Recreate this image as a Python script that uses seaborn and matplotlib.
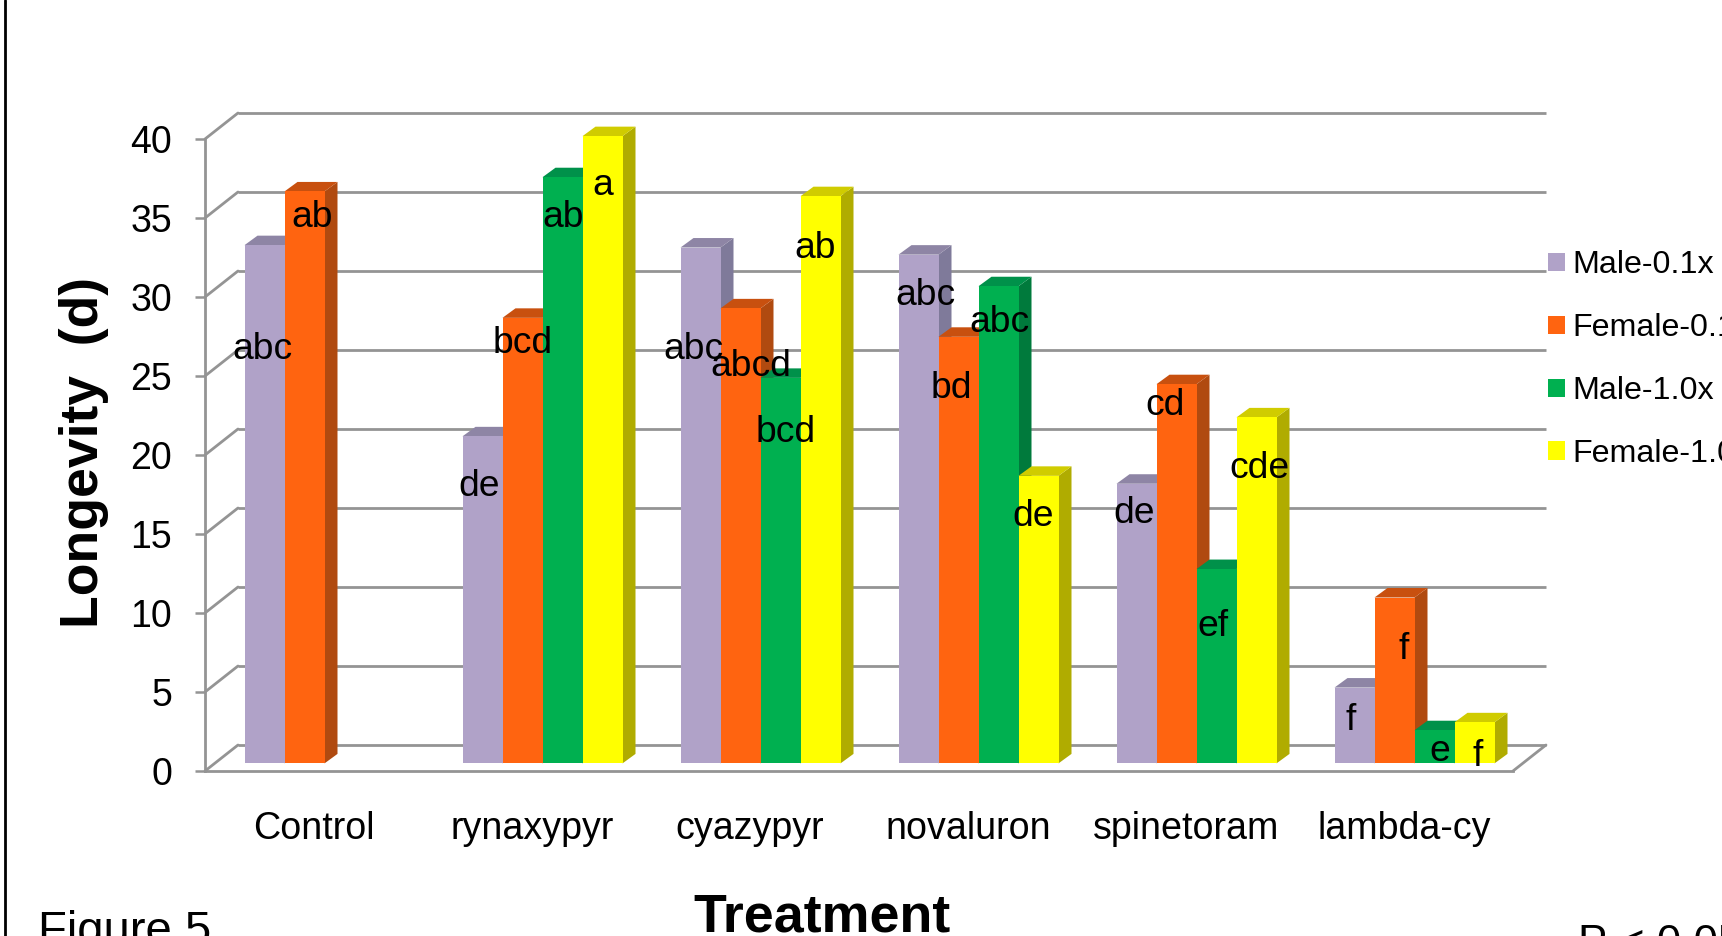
import numpy as np
import pandas as pd
import matplotlib
matplotlib.use("Agg")
import matplotlib.pyplot as plt
from matplotlib.colors import to_hex
from matplotlib.lines import Line2D
from matplotlib.patches import Patch, Polygon
from matplotlib.transforms import Affine2D, IdentityTransform
import seaborn as sns

treatments = ["Control", "rynaxypyr", "cyazypyr", "novaluron", "spinetoram", "lambda-cy"]
series_names = ["Male-0.1x", "Female-0.1x", "Male-1.0x", "Female-1.0x"]
male_01 = [32.8, 20.7, 32.65, 32.2, 17.7, 4.8]
female_01 = [36.2, 28.2, 28.8, 27.0, 24.0, 10.5]
male_10 = [np.nan, 37.1, 24.4, 30.2, 12.3, 2.1]
female_10 = [np.nan, 39.7, 35.9, 18.2, 21.9, 2.6]

letters_male_01 = ["abc", "de", "abc", "abc", "de", "f"]
letters_female_01 = ["ab", "bcd", "abcd", "bd", "cd", "f"]
letters_male_10 = ["", "ab", "bcd", "abc", "ef", "e"]
letters_female_10 = ["", "a", "ab", "de", "cde", "f"]

# label offsets from the top centre of each bar, in pixels
offs_male_01 = [(-2.4, -113.8), (-3, -59.2), (-7, -111.5), (6.5, -49.9), (-2.5, -39.3), (-4, -42)]
offs_female_01 = [(7.5, -35.6), (0, -35.6), (10.4, -67.6), (-7, -61.2), (-11, -30.8), (9, -61.5)]
offs_male_10 = [(0, 0), (1, -49.8), (5, -64.1), (1, -45.8), (-4, -66.6), (5, -30.4)]
offs_female_10 = [(0, 0), (0.7, -58.9), (-5.3, -61.4), (-5.5, -50.2), (3, -60.2), (3, -43.7)]

front_colors = ["#b0a2c8", "#ff6410", "#00b050", "#ffff00"]
side_colors = ["#7f7a9a", "#b04a10", "#007a3c", "#b0ac00"]
top_colors = ["#8e85a5", "#c8500f", "#00914a", "#d0cc00"]
GRID = "#949494"
GRID_LW = 2.0

sns.set_theme(style="white")
plt.rcParams["font.family"] = ["Liberation Sans", "DejaVu Sans"]

W, H = 1722, 936
fig = plt.figure(figsize=(W / 100, H / 100), dpi=100, facecolor="white")


def box(x0, x1, ytop, ybot):
    return [x0 / W, 1 - ybot / H, (x1 - x0) / W, (ybot - ytop) / H]


# front plane of the frame
ax_front = fig.add_axes(box(205, 1513, 139, 771))
# plane on which the fronts of the bars stand
ax = fig.add_axes(box(215.5, 1523.5, 131.4, 763.4))
ax.set_zorder(5)
ax.patch.set_visible(False)

rows = []
for name, vals in zip(series_names, [male_01, female_01, male_10, female_10]):
    for t, v in zip(treatments, vals):
        rows.append({"Treatment": t, "Series": name, "Longevity": v})
df = pd.DataFrame(rows)

sns.barplot(data=df, x="Treatment", y="Longevity", hue="Series",
            order=treatments, hue_order=series_names, palette=front_colors,
            width=160 / 218, gap=0, dodge=True, errorbar=None, legend=False,
            linewidth=0, saturation=1, ax=ax)
ax.set_xlim(-0.5, 5.5)
ax.set_ylim(0, 40)
ax.axis("off")

ax_front.set_xlim(-0.5, 5.5)
ax_front.set_ylim(0, 40)
ax_front.set_yticks(range(0, 45, 5))
ax_front.set_xticks(range(len(treatments)))
ax_front.set_xticklabels(treatments)
ax_front.tick_params(axis="y", length=7.2, width=1.8, color=GRID, pad=16.5, labelsize=27,
                     left=True, labelcolor="black")
ax_front.tick_params(axis="x", length=0, pad=28.7, labelsize=27.1, labelcolor="black")
ax_front.set_xlabel("")
ax_front.set_ylabel("")
ax_front.grid(False)
sns.despine(ax=ax_front, top=True, right=True)
for s in ("left", "bottom"):
    ax_front.spines[s].set_color(GRID)
    ax_front.spines[s].set_linewidth(GRID_LW)

# back wall
WALL_DX, WALL_DY = 33, 26
wall = ax_front.transData + Affine2D().translate(WALL_DX, WALL_DY)
for v in ax_front.get_yticks():
    ax_front.plot([-0.5, 5.5], [v, v], color=GRID, lw=GRID_LW, transform=wall,
                  clip_on=False, zorder=1, solid_capstyle="butt")
    x0, y0 = ax_front.transData.transform((-0.5, v))
    ax_front.add_line(Line2D([x0, x0 + WALL_DX], [y0, y0 + WALL_DY], color=GRID, lw=GRID_LW,
                             transform=IdentityTransform(), clip_on=False, zorder=1))
x0, y0 = ax_front.transData.transform((5.5, 0))
ax_front.add_line(Line2D([x0, x0 + WALL_DX], [y0, y0 + WALL_DY], color=GRID, lw=GRID_LW,
                         transform=IdentityTransform(), clip_on=False, zorder=1))

# bar depth
dx = 13 / 218
dy = 9.5 / 15.8
hue_of = {c: i for i, c in enumerate(front_colors)}
bars = [p for p in ax.patches if np.isfinite(p.get_height()) and p.get_height() > 0]
bars.sort(key=lambda p: p.get_x())
for i, p in enumerate(bars):
    xl, w, h = p.get_x(), p.get_width(), p.get_height()
    k = hue_of[to_hex(p.get_facecolor())]
    z = 3 + 2 * i
    p.set_zorder(z)
    p.set_clip_on(False)
    ax.add_patch(Polygon([(xl + w, 0), (xl + w + dx, dy), (xl + w + dx, h + dy), (xl + w, h)],
                         closed=True, fc=side_colors[k], ec="none", zorder=z - 1, clip_on=False))
    ax.add_patch(Polygon([(xl, h), (xl + dx, h + dy), (xl + w + dx, h + dy), (xl + w, h)],
                         closed=True, fc=top_colors[k], ec="none", zorder=z - 1, clip_on=False))

# significance letters
bar_width = 160 / 218 / 4
for k, (vals, lets, offs) in enumerate(zip(
        [male_01, female_01, male_10, female_10],
        [letters_male_01, letters_female_01, letters_male_10, letters_female_10],
        [offs_male_01, offs_female_01, offs_male_10, offs_female_10])):
    for g, (v, s, o) in enumerate(zip(vals, lets, offs)):
        if not s:
            continue
        cx = g + (k - 1.5) * bar_width
        ax.annotate(s, xy=(cx, v), xycoords="data", xytext=o, textcoords="offset pixels",
                    ha="center", va="baseline", fontsize=26.8, color="black",
                    zorder=200, annotation_clip=False)

# legend
handles = [Patch(facecolor=c, edgecolor="none") for c in front_colors]
fig.legend(handles, series_names, loc="upper left", bbox_to_anchor=(1548 / W, 1 - 250.5 / H),
           frameon=False, fontsize=23.2, handlelength=0.53, handleheight=0.5,
           handletextpad=0.24, labelspacing=1.02, borderpad=0, borderaxespad=0,
           labelcolor="black")

# free texts
fig.text(84 / W, 1 - 453 / H, "Longevity  (d)", rotation=90, ha="center", va="center",
         fontsize=38.5, fontweight="bold", color="black")
fig.text(822 / W, 1 - 932 / H, "Treatment", ha="center", va="baseline",
         fontsize=38.7, fontweight="bold", color="black")
fig.text(38.5 / W, 1 - 944 / H, "Figure 5", ha="left", va="baseline", fontsize=34, color="black")
fig.text(1578 / W, 1 - 956.5 / H, "P < 0.05", ha="left", va="baseline", fontsize=31.7, color="black")

# left border of the slide
fig.add_artist(Line2D([5.4 / W, 5.4 / W], [0, 1], color="black", lw=2.0, transform=fig.transFigure))

fig.savefig("out.png", dpi=100, facecolor="white")
